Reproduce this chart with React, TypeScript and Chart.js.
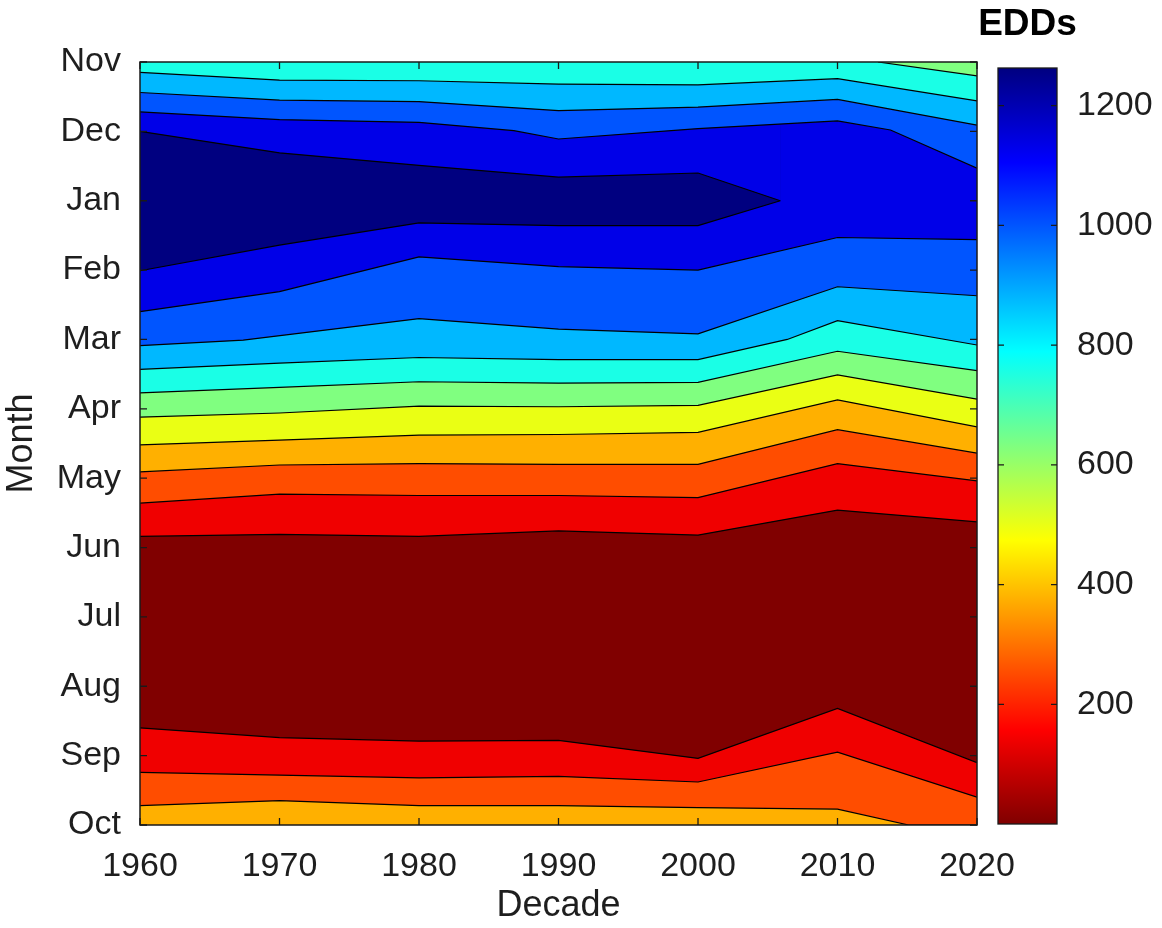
import React, { useEffect, useRef } from 'react';
import { Chart, registerables } from 'chart.js';

Chart.register(...registerables);

// ---------------- data ----------------
const decades = [1960, 1970, 1980, 1990, 2000, 2010, 2020];
const monthLabels = ['Nov', 'Dec', 'Jan', 'Feb', 'Mar', 'Apr', 'May', 'Jun', 'Jul', 'Aug', 'Sep', 'Oct'];
const eddTicks = [200, 400, 600, 800, 1000, 1200];
const eddMin = 0;
const eddMax = 1263;
const colorbarTitle = 'EDDs';

// contour boundaries: [decade, month position (0 = Nov ... 11 = Oct)]
const lineGreenCyanTop = [[2012.9, 0], [2020, 0.2]];
const lineCyanLightBlueTop = [[1960, 0.15], [1970, 0.26], [1980, 0.27], [1990, 0.32], [2000, 0.33], [2010, 0.24], [2020, 0.56]];
const lineLightBlueBlueTop = [[1960, 0.44], [1970, 0.55], [1980, 0.57], [1990, 0.7], [2000, 0.65], [2010, 0.54], [2020, 0.91]];
const lineBlueDeepBlueTop = [[1960, 0.72], [1970, 0.83], [1980, 0.87], [1986.8, 0.99], [1990, 1.11], [2000, 0.96], [2010, 0.85], [2013.8, 0.98], [2020, 1.53]];
const lineDeepBlueDarkTop = [[1960, 1.0], [1970, 1.31], [1980, 1.49], [1990, 1.66], [2000, 1.6], [2005.9, 2.0]];
const lineDarkDeepBlueBottom = [[1960, 3.01], [1970, 2.64], [1980, 2.32], [1990, 2.36], [2000, 2.36], [2005.9, 2.0]];
const lineDeepBlueBlueBottom = [[1960, 3.6], [1970, 3.31], [1980, 2.81], [1990, 2.95], [2000, 3.0], [2010, 2.53], [2020, 2.56]];
const lineBlueLightBlueBottom = [[1960, 4.09], [1967.4, 4.01], [1980, 3.7], [1990, 3.85], [2000, 3.92], [2010, 3.24], [2020, 3.37]];
const lineLightBlueCyanBottom = [[1960, 4.43], [1970, 4.34], [1980, 4.26], [1990, 4.29], [2000, 4.29], [2006.4, 4.0], [2010, 3.73], [2020, 4.08]];
const lineCyanGreen = [[1960, 4.77], [1970, 4.69], [1980, 4.61], [1990, 4.63], [2000, 4.62], [2010, 4.17], [2020, 4.45]];
const lineGreenYellow = [[1960, 5.12], [1970, 5.06], [1980, 4.96], [1990, 4.97], [2000, 4.95], [2010, 4.51], [2020, 4.86]];
const lineYellowOrange = [[1960, 5.52], [1970, 5.45], [1980, 5.38], [1990, 5.37], [2000, 5.34], [2010, 4.87], [2020, 5.26]];
const lineOrangeOrangeRed = [[1960, 5.91], [1970, 5.81], [1980, 5.79], [1990, 5.8], [2000, 5.8], [2010, 5.3], [2020, 5.64]];
const lineOrangeRedRed = [[1960, 6.36], [1970, 6.23], [1980, 6.25], [1990, 6.25], [2000, 6.28], [2010, 5.79], [2020, 6.04]];
const lineRedDarkRedTop = [[1960, 6.84], [1970, 6.81], [1980, 6.84], [1990, 6.76], [2000, 6.82], [2010, 6.46], [2020, 6.63]];
const lineDarkRedRedBottom = [[1960, 9.6], [1970, 9.74], [1980, 9.79], [1990, 9.78], [2000, 10.04], [2010, 9.32], [2020, 10.1]];
const lineRedOrangeRedBottom = [[1960, 10.24], [1970, 10.28], [1980, 10.32], [1990, 10.3], [2000, 10.38], [2010, 9.95], [2020, 10.6]];
const lineOrangeRedOrangeBottom = [[1960, 10.72], [1970, 10.65], [1980, 10.72], [1990, 10.72], [2000, 10.75], [2010, 10.77], [2015.1, 11], [2020, 11]];
const bottomEdge = [[1960, 11], [2020, 11]];

// ---------------- styles ----------------
const FONT = "'Liberation Sans', Arial, Helvetica, sans-serif";
const TEXT = '#1e1e1e';
const C = {
  darkRed: '#800000',
  red: '#f00000',
  orangeRed: '#ff4d00',
  orange: '#ffb000',
  yellow: '#eaff14',
  green: '#80ff80',
  cyan: '#1affe6',
  lightBlue: '#00b8ff',
  blue: '#0055ff',
  deepBlue: '#0000e8',
  darkBlue: '#000080',
};

// each boundary is filled towards the top edge with the band colour lying above it
const layers: [number[][], string, boolean][] = [
  [lineGreenCyanTop, C.green, true],
  [lineCyanLightBlueTop, C.cyan, true],
  [lineLightBlueBlueTop, C.lightBlue, true],
  [lineBlueDeepBlueTop, C.blue, true],
  [lineDeepBlueDarkTop, C.deepBlue, true],
  [lineDarkDeepBlueBottom, C.darkBlue, true],
  [lineDeepBlueBlueBottom, C.deepBlue, true],
  [lineBlueLightBlueBottom, C.blue, true],
  [lineLightBlueCyanBottom, C.lightBlue, true],
  [lineCyanGreen, C.cyan, true],
  [lineGreenYellow, C.green, true],
  [lineYellowOrange, C.yellow, true],
  [lineOrangeOrangeRed, C.orange, true],
  [lineOrangeRedRed, C.orangeRed, true],
  [lineRedDarkRedTop, C.red, true],
  [lineDarkRedRedBottom, C.darkRed, true],
  [lineRedOrangeRedBottom, C.red, true],
  [lineOrangeRedOrangeBottom, C.orangeRed, true],
  [bottomEdge, C.orange, false],
];

const MAIN_W = 1040;
const H = 928;
const PLOT_LEFT = 140;
const PLOT_RIGHT = 977;
const PLOT_TOP = 62;
const PLOT_BOTTOM = 825;

const CB_BAR_LEFT = 998;
const CB_BAR_RIGHT = 1057;
const CB_LEFT_PAGE = 980;
const CB_W = 1162 - CB_LEFT_PAGE;
const CB_TOP = 68;
const CB_BOTTOM = 824;
const CB_TITLE_Y = 24.5;

const mainFrame = {
  id: 'mainFrame',
  afterDraw(chart: any) {
    const { ctx, chartArea, scales } = chart;
    const { left, right, top, bottom } = chartArea;
    const x = scales.x;
    const y = scales.y;
    ctx.save();
    ctx.strokeStyle = '#1a1a1a';
    ctx.lineWidth = 1.3;
    ctx.beginPath();
    decades.forEach((d) => {
      const px = x.getPixelForValue(d);
      ctx.moveTo(px, bottom);
      ctx.lineTo(px, bottom - 7);
      ctx.moveTo(px, top);
      ctx.lineTo(px, top + 7);
    });
    monthLabels.forEach((_, i) => {
      const py = y.getPixelForValue(i);
      ctx.moveTo(left, py);
      ctx.lineTo(left + 7, py);
      ctx.moveTo(right, py);
      ctx.lineTo(right - 7, py);
    });
    ctx.stroke();
    ctx.lineWidth = 1.5;
    ctx.strokeRect(left, top, right - left, bottom - top);
    ctx.restore();
  },
};

const cbFrame = {
  id: 'cbFrame',
  afterDraw(chart: any) {
    const { ctx, chartArea, scales } = chart;
    const { left, right, top, bottom } = chartArea;
    const y = scales.y;
    ctx.save();
    ctx.strokeStyle = '#1a1a1a';
    ctx.lineWidth = 1.2;
    ctx.beginPath();
    eddTicks.forEach((v) => {
      const py = y.getPixelForValue(v);
      ctx.moveTo(left, py);
      ctx.lineTo(left + 6, py);
      ctx.moveTo(right, py);
      ctx.lineTo(right - 6, py);
    });
    ctx.stroke();
    ctx.lineWidth = 1.3;
    ctx.strokeRect(left, top, right - left, bottom - top);
    // colorbar title, centred over the bar
    ctx.fillStyle = '#000';
    ctx.font = `bold 37px ${FONT}`;
    ctx.textAlign = 'center';
    ctx.textBaseline = 'middle';
    ctx.fillText(colorbarTitle, (left + right) / 2, CB_TITLE_Y);
    ctx.restore();
  },
};

function jetGradient(chart: any) {
  const area = chart.chartArea;
  if (!area) return C.darkBlue;
  const g = chart.ctx.createLinearGradient(0, area.top, 0, area.bottom);
  g.addColorStop(0, '#000080');
  g.addColorStop(0.125, '#0000ff');
  g.addColorStop(0.375, '#00ffff');
  g.addColorStop(0.625, '#ffff00');
  g.addColorStop(0.875, '#ff0000');
  g.addColorStop(1, '#800000');
  return g;
}

export default function App() {
  const mainRef = useRef<HTMLCanvasElement | null>(null);
  const cbRef = useRef<HTMLCanvasElement | null>(null);

  useEffect(() => {
    if (!mainRef.current || !cbRef.current) return;

    const datasets = layers.map(([pts, color, border]) => ({
      data: pts.map(([x, y]) => ({ x, y })),
      borderColor: border ? '#000000' : 'rgba(0,0,0,0)',
      borderWidth: border ? 1.2 : 1,
      backgroundColor: color,
      fill: { value: 0 },
      pointRadius: 0,
      tension: 0,
    }));

    const main = new Chart(mainRef.current, {
      type: 'line',
      data: { datasets },
      plugins: [mainFrame],
      options: {
        animation: false,
        responsive: false,
        maintainAspectRatio: false,
        events: [],
        layout: { padding: { left: 0, top: PLOT_TOP, right: MAIN_W - PLOT_RIGHT, bottom: 0 } },
        plugins: {
          legend: { display: false },
          tooltip: { enabled: false },
          filler: { drawTime: 'beforeDatasetsDraw' },
        },
        scales: {
          x: {
            type: 'linear',
            min: decades[0],
            max: decades[decades.length - 1],
            afterBuildTicks: (s: any) => {
              s.ticks = decades.map((v) => ({ value: v }));
            },
            afterFit: (s: any) => {
              s.height = H - PLOT_BOTTOM;
            },
            grid: { display: false, drawTicks: false },
            border: { display: false },
            ticks: {
              color: TEXT,
              font: { family: FONT, size: 34 },
              padding: 21,
              maxRotation: 0,
              autoSkip: false,
              callback: (v: any) => String(v),
            },
            title: {
              display: true,
              text: 'Decade',
              color: TEXT,
              font: { family: FONT, size: 36 },
              padding: { top: 0, bottom: 0 },
            },
          },
          y: {
            type: 'linear',
            reverse: true,
            min: 0,
            max: monthLabels.length - 1,
            afterBuildTicks: (s: any) => {
              s.ticks = monthLabels.map((_, i) => ({ value: i }));
            },
            afterFit: (s: any) => {
              s.width = PLOT_LEFT;
            },
            grid: { display: false, drawTicks: false },
            border: { display: false },
            ticks: {
              color: TEXT,
              font: { family: FONT, size: 34 },
              padding: 19,
              autoSkip: false,
              callback: (v: any) => monthLabels[Math.round(v)] ?? '',
            },
            title: {
              display: true,
              text: 'Month',
              color: TEXT,
              font: { family: FONT, size: 36 },
              padding: { top: 0, bottom: 0 },
            },
          },
        },
      },
    } as any);

    const cb = new Chart(cbRef.current, {
      type: 'bar',
      data: {
        labels: [colorbarTitle],
        datasets: [
          {
            data: [[eddMin, eddMax]],
            backgroundColor: (ctx: any) => jetGradient(ctx.chart),
            borderWidth: 0,
            barPercentage: 1,
            categoryPercentage: 1,
          },
        ],
      },
      plugins: [cbFrame],
      options: {
        animation: false,
        responsive: false,
        maintainAspectRatio: false,
        events: [],
        layout: {
          padding: { left: CB_BAR_LEFT - CB_LEFT_PAGE, top: CB_TOP, right: 0, bottom: H - CB_BOTTOM },
        },
        plugins: {
          legend: { display: false },
          tooltip: { enabled: false },
        },
        scales: {
          x: {
            type: 'category',
            display: false,
          },
          y: {
            type: 'linear',
            position: 'right',
            min: eddMin,
            max: eddMax,
            afterBuildTicks: (s: any) => {
              s.ticks = eddTicks.map((v) => ({ value: v }));
            },
            afterFit: (s: any) => {
              s.width = CB_LEFT_PAGE + CB_W - CB_BAR_RIGHT;
            },
            grid: { display: false, drawTicks: false },
            border: { display: false },
            ticks: {
              color: TEXT,
              font: { family: FONT, size: 34 },
              padding: 20,
              autoSkip: false,
              callback: (v: any) => String(v),
            },
          },
        },
      },
    } as any);

    return () => {
      main.destroy();
      cb.destroy();
    };
  }, []);

  return (
    <div style={{ position: 'absolute', left: 0, top: 0, width: 1162, height: H, background: '#ffffff' }}>
      <canvas
        ref={mainRef}
        width={MAIN_W}
        height={H}
        style={{ position: 'absolute', left: 0, top: 0, width: MAIN_W, height: H }}
      />
      <canvas
        ref={cbRef}
        width={CB_W}
        height={H}
        style={{ position: 'absolute', left: CB_LEFT_PAGE, top: 0, width: CB_W, height: H }}
      />
    </div>
  );
}
